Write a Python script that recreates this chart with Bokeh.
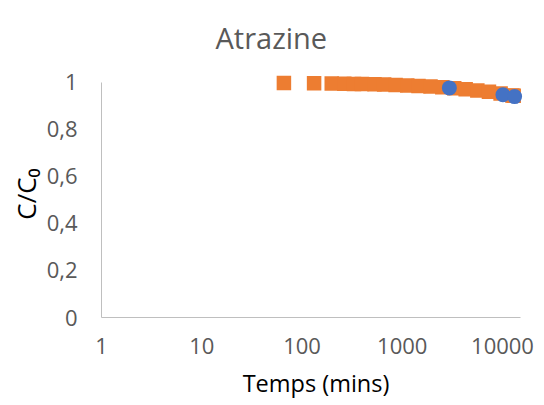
from bokeh.plotting import figure
from bokeh.models import FixedTicker
from bokeh.embed import file_html
from bokeh.resources import INLINE

# Data
model_time = [66, 132, 198, 264, 330, 396, 528, 660, 858, 1122, 1452, 1914,
              2508, 3300, 4290, 5610, 7326, 9570, 12540, 12936]
model_ratio = [0.998, 0.997, 0.996, 0.995, 0.994, 0.9935, 0.992, 0.991, 0.9895,
               0.9876, 0.9854, 0.9827, 0.9795, 0.9757, 0.9714, 0.9662, 0.9602,
               0.953, 0.9444, 0.9433]
exp_time = [2950, 10100, 13200]
exp_ratio = [0.977, 0.948, 0.940]

x_ticks = [1, 10, 100, 1000, 10000]
x_tick_labels = ["1", "10", "100", "1000", "10000"]
y_ticks = [0, 0.2, 0.4, 0.6, 0.8, 1]
y_tick_labels = ["0", "0,2", "0,4", "0,6", "0,8", "1"]

FONT = "Open Sans"
GREY = "#595959"

p = figure(width=536, height=401, x_axis_type="log",
           x_range=(1, 19020), y_range=(0, 1.051),
           output_backend="svg", toolbar_location=None,
           min_border_left=101, min_border_right=6,
           min_border_top=70, min_border_bottom=84)

p.outline_line_color = None
p.grid.visible = False
p.background_fill_color = "white"
p.border_fill_color = "white"

p.title.text = "Atrazine"
p.title.text_font = FONT
p.title.text_font_size = "29px"
p.title.text_font_style = "normal"
p.title.text_color = GREY
p.title.align = "left"
p.title.offset = 114
p.title.standoff = 28

p.square(model_time, model_ratio, size=14.5, color="#ED7D31", line_color=None)
p.scatter(exp_time, exp_ratio, size=15, color="#4472C4", line_color=None)

xa = p.xaxis[0]
xa.ticker = FixedTicker(ticks=x_ticks)
xa.major_label_overrides = {t: l for t, l in zip(x_ticks, x_tick_labels)}
xa.bounds = (1, 15000)
xa.axis_label = "Temps (mins)"

ya = p.yaxis[0]
ya.ticker = FixedTicker(ticks=y_ticks)
ya.major_label_overrides = {t: l for t, l in zip(y_ticks, y_tick_labels)}
ya.bounds = (0, 1)
ya.axis_label = "C/C\u2080"

for ax in (xa, ya):
    ax.axis_line_color = "#BFBFBF"
    ax.axis_line_width = 1
    ax.major_tick_line_color = None
    ax.minor_tick_line_color = None
    ax.major_tick_out = 0
    ax.major_tick_in = 0
    ax.major_label_text_font = FONT
    ax.major_label_text_font_size = "22px"
    ax.major_label_text_color = GREY
    ax.axis_label_text_font = FONT
    ax.axis_label_text_font_size = "23.5px"
    ax.axis_label_text_font_style = "normal"
    ax.axis_label_text_color = "black"

ya.axis_label_text_font_size = "26px"
xa.major_label_standoff = 20
xa.axis_label_standoff = 10
ya.major_label_standoff = 24
ya.axis_label_standoff = 0

open("out.html", "w").write(file_html(p, INLINE))
